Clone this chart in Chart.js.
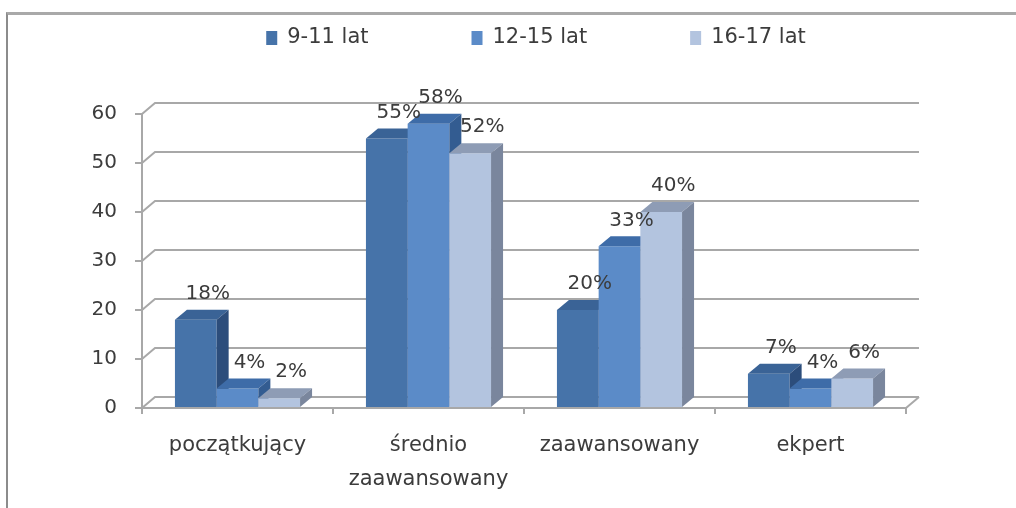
<!DOCTYPE html>
<html lang="pl">
<head>
<meta charset="utf-8">
<title>Poziom umiejętności</title>
<script src="https://cdn.jsdelivr.net/npm/chart.js@4/dist/chart.umd.min.js"></script>
<style>
    html, body { margin: 0; padding: 0; background: #fff; }
    #ramka {
        position: absolute; left: 6px; top: 12px; width: 1010px; height: 496px;
        border-top: 3px solid #a9a9a9; border-left: 2px solid #8c8c8c;
    }
    #grafico { position: absolute; left: 0; top: 0; }
</style>
</head>
<body>
<div id="ramka"></div>
<canvas id="grafico" width="1016" height="508"></canvas>
<script>
// dane
const kategorie = ["początkujący", ["średnio", "zaawansowany"], "zaawansowany", "ekpert"];
const grupy = ["9-11 lat", "12-15 lat", "16-17 lat"];
const wiek9_11 = [18, 55, 20, 7];
const wiek12_15 = [4, 58, 33, 4];
const wiek16_17 = [2, 52, 40, 6];
const osY = [0, 10, 20, 30, 40, 50, 60];

// kolory: przód, góra, bok
const przod = ["#4673a9", "#5b8bc8", "#b3c4df"];
const gora = ["#3a6396", "#3e6ca8", "#8e9cb5"];
const bok = ["#2c4d7b", "#335c91", "#7a869d"];

const tekst = "#3c3c3c";
const siatka = "#a8a8a8";
const glebBar = { dx: 12, dy: 10 };
const glebSciana = { dx: 13, dy: 11 };

Chart.defaults.font.family = '"DejaVu Sans", sans-serif';
Chart.defaults.color = tekst;

function wielokat(ctx, pts, kolor) {
    ctx.beginPath();
    ctx.moveTo(pts[0][0], pts[0][1]);
    for (let i = 1; i < pts.length; i++) ctx.lineTo(pts[i][0], pts[i][1]);
    ctx.closePath();
    ctx.fillStyle = kolor;
    ctx.fill();
}

const efekt3d = {
    id: "efekt3d",
    beforeDatasetsDraw(chart) {
        // siatka na tylnej ścianie
        const ctx = chart.ctx;
        const y = chart.scales.y;
        const a = chart.chartArea;
        ctx.save();
        ctx.strokeStyle = siatka;
        ctx.lineWidth = 2;
        osY.forEach(v => {
            const py = y.getPixelForValue(v);
            ctx.beginPath();
            ctx.moveTo(a.left, py);
            ctx.lineTo(a.left + glebSciana.dx, py - glebSciana.dy);
            ctx.lineTo(a.right + glebSciana.dx, py - glebSciana.dy);
            ctx.stroke();
        });
        // prawa krawędź podłogi
        ctx.beginPath();
        ctx.moveTo(a.right, a.bottom);
        ctx.lineTo(a.right + glebSciana.dx, a.bottom - glebSciana.dy);
        ctx.stroke();
        ctx.restore();
    },
    beforeDatasetDraw() {
        return false; // rysujemy niżej, w kolejności serii
    },
    afterDatasetsDraw(chart) {
        const ctx = chart.ctx;
        ctx.save();
        chart.data.datasets.forEach((ds, i) => {
            const meta = chart.getDatasetMeta(i);
            meta.data.forEach(bar => {
                bar.draw(ctx);
                const p = bar.getProps(["x", "y", "base", "width"], true);
                const x0 = p.x - p.width / 2, x1 = p.x + p.width / 2;
                const { dx, dy } = glebBar;
                wielokat(ctx, [[x0, p.y], [x1, p.y], [x1 + dx, p.y - dy], [x0 + dx, p.y - dy]], gora[i]);
                wielokat(ctx, [[x1, p.y], [x1 + dx, p.y - dy], [x1 + dx, p.base - dy], [x1, p.base]], bok[i]);
            });
        });
        // etykiety wartości
        ctx.font = '20px "DejaVu Sans", sans-serif';
        ctx.fillStyle = tekst;
        ctx.textAlign = "center";
        ctx.textBaseline = "middle";
        chart.data.datasets.forEach((ds, i) => {
            const meta = chart.getDatasetMeta(i);
            meta.data.forEach((bar, j) => {
                const p = bar.getProps(["x", "y"], true);
                ctx.fillText(ds.data[j] + "%", p.x + 12, p.y - 26);
            });
        });
        ctx.restore();
    },
    afterDraw(chart) {
        // legenda
        const ctx = chart.ctx;
        ctx.save();
        ctx.font = '21px "DejaVu Sans", sans-serif';
        ctx.textBaseline = "middle";
        const box = 11, odstep = 103, srodek = 536, ly = 38;
        const szer = grupy.map(t => box + 10 + ctx.measureText(t).width);
        let x = srodek - (szer.reduce((s, w) => s + w, 0) + odstep * (grupy.length - 1)) / 2;
        grupy.forEach((t, i) => {
            ctx.fillStyle = przod[i];
            ctx.fillRect(x, ly - 7, box, 14);
            ctx.fillStyle = tekst;
            ctx.fillText(t, x + box + 10, ly);
            x += szer[i] + odstep;
        });
        ctx.restore();
    }
};

const ctx = document.getElementById("grafico").getContext("2d");

const grafico = new Chart(ctx, {
    type: "bar",
    data: {
        labels: kategorie,
        datasets: [
            { label: grupy[0], data: wiek9_11, backgroundColor: przod[0] },
            { label: grupy[1], data: wiek12_15, backgroundColor: przod[1] },
            { label: grupy[2], data: wiek16_17, backgroundColor: przod[2] }
        ]
    },
    options: {
        responsive: false,
        animation: false,
        devicePixelRatio: 1,
        layout: { padding: { top: 114, right: 110, left: 0, bottom: 0 } },
        categoryPercentage: 0.655,
        barPercentage: 1,
        plugins: {
            legend: { display: false },
            tooltip: { enabled: false }
        },
        scales: {
            x: {
                grid: { display: true, drawOnChartArea: false, tickLength: 6, color: siatka, lineWidth: 2 },
                border: { display: true, color: siatka, width: 2 },
                ticks: { padding: 15, font: { size: 21, lineHeight: 1.6 }, color: tekst, maxRotation: 0 },
                afterFit: s => { s.height = 100; }
            },
            y: {
                min: 0,
                max: 60,
                grid: { display: true, drawOnChartArea: false, tickLength: 7, color: siatka, lineWidth: 2 },
                border: { display: true, color: siatka, width: 2 },
                ticks: { stepSize: 10, padding: 18, font: { size: 20 }, color: tekst },
                afterFit: s => { s.width = 142; }
            }
        }
    },
    plugins: [efekt3d]
});
</script>
</body>
</html>
